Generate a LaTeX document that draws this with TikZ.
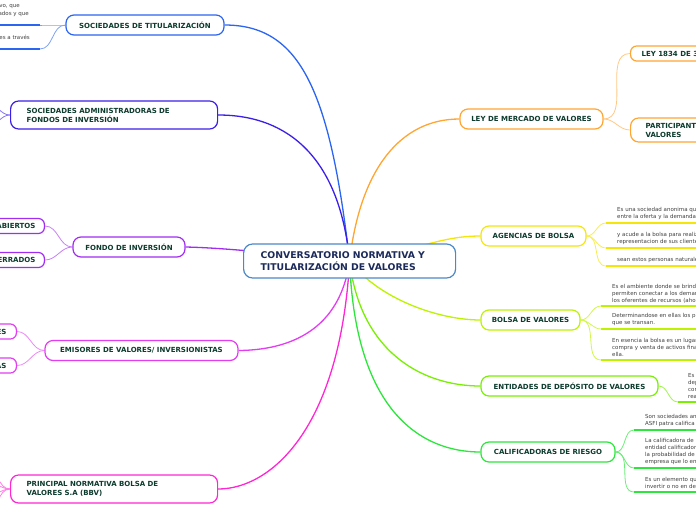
\documentclass[tikz,border=0pt]{standalone}
\usepackage{fontspec}
\setmainfont{DejaVu Sans}
\usepackage{tikz}
\usetikzlibrary{arrows.meta,positioning,calc}
\definecolor{topictext}{HTML}{0D3B2E}
\definecolor{roottext}{HTML}{1C2A5A}
\definecolor{notetext}{HTML}{404040}
\definecolor{rootline}{HTML}{4A88C8}
\definecolor{titcol}{HTML}{2B65F2}
\definecolor{admcol}{HTML}{3B1EE8}
\definecolor{fondcol}{HTML}{A12CF2}
\definecolor{emicol}{HTML}{E33CF2}
\definecolor{bbvcol}{HTML}{FF26D4}
\definecolor{leycol}{HTML}{FFA532}
\definecolor{agcol}{HTML}{F4E60A}
\definecolor{bolcol}{HTML}{BDF200}
\definecolor{entcol}{HTML}{78F000}
\definecolor{calcol}{HTML}{2CE63C}
\pgfdeclarelayer{bg}
\pgfsetlayers{bg,main}

\begin{document}
\begin{tikzpicture}[x=1pt, y=-1pt, >=Latex,
  topic/.style={draw, fill=white, rounded corners=8pt, line width=1.2pt, text=topictext,
    font=\bfseries\fontsize{7}{9}\selectfont, minimum height=20pt, inner ysep=0pt},
  subtopic/.style={topic, rounded corners=6pt, minimum height=15pt, inner xsep=9pt},
  longtopic/.style={topic, minimum height=28pt, inner xsep=16pt, text width=175pt, align=left},
  note/.style={inner sep=0pt, align=left, text=notetext, font=\fontsize{5.5}{7}\selectfont},
  branch/.style={line width=1.3pt},
  twig/.style={line width=0.8pt},
  noteline/.style={line width=1.8pt}]
\path[use as bounding box] (0,0) rectangle (696,520);
\clip (0,0) rectangle (696,520);

\node[draw=rootline, fill=white, rounded corners=9pt, line width=1.2pt, text=roottext,
  font=\bfseries\fontsize{9.3}{11.5}\selectfont, minimum height=34pt, text width=178pt,
  inner xsep=17pt, align=left, anchor=west] (root) at (243,261) {CONVERSATORIO NORMATIVA Y\\TITULARIZACIÓN DE VALORES};

% left side
\node[topic, draw=titcol, minimum width=158pt] (tit) at (145,25) {SOCIEDADES DE TITULARIZACIÓN};
\node[longtopic, draw=admcol, anchor=west] (adm) at (10,115) {SOCIEDADES ADMINISTRADORAS DE\\FONDOS DE INVERSIÓN};
\node[topic, draw=fondcol, minimum width=112pt] (fondo) at (129,247) {FONDO DE INVERSIÓN};
\node[subtopic, draw=fondcol, anchor=east] (abiertos) at (45,226) {ABIERTOS};
\node[subtopic, draw=fondcol, anchor=east] (cerrados) at (45,260) {CERRADOS};
\node[topic, draw=emicol, minimum width=193pt] (emisores) at (141.5,350.5) {EMISORES DE VALORES/ INVERSIONISTAS};
\node[subtopic, draw=emicol, anchor=east, inner xsep=10pt] (emi1) at (17,331.5) {ES};
\node[subtopic, draw=emicol, anchor=east, inner xsep=10pt] (emi2) at (17,365.5) {AS};
\node[longtopic, draw=bbvcol, anchor=west] (bbv) at (10,489) {PRINCIPAL NORMATIVA BOLSA DE\\VALORES S.A (BBV)};

\coordinate (tit1) at (40,25);
\coordinate (tit2) at (40,49);
\node[note, anchor=base east] (tit1a) at (20,7) {vo, que};
\node[note, anchor=base east] (tit1b) at (29,15) {ados y que};
\node[note, anchor=base east] (tit2a) at (30,39) {es a través};
\draw[noteline, titcol] (tit1) -- ++(-50,0);
\draw[noteline, titcol] (tit2) -- ++(-50,0);
\coordinate (adm1) at (-12,104);
\coordinate (adm2) at (-12,126);
\coordinate (bbv1) at (-14,468);
\coordinate (bbv2) at (-14,481);
\coordinate (bbv3) at (-14,497);
\coordinate (bbv4) at (-14,512);

% right side
\node[topic, draw=leycol, minimum width=143pt] (ley) at (531.5,119) {LEY DE MERCADO DE VALORES};
\node[subtopic, draw=leycol, anchor=west, inner xsep=11pt] (ley1834) at (630,53.5) {LEY 1834 DE 3};
\node[topic, draw=leycol, anchor=west, minimum height=24pt, align=left, inner xsep=15pt] (partic) at (630,130) {PARTICIPANT\\VALORES};
\node[topic, draw=agcol, minimum width=105pt] (agencias) at (533.5,236) {AGENCIAS DE BOLSA};
\node[topic, draw=bolcol, minimum width=99pt] (bolsa) at (530.5,320) {BOLSA DE VALORES};
\node[topic, draw=entcol, minimum width=177pt] (entidades) at (569.5,386) {ENTIDADES DE DEPÓSITO DE VALORES};
\node[topic, draw=calcol, minimum width=134pt] (calif) at (548,452) {CALIFICADORAS DE RIESGO};

\coordinate (ag1) at (606,223);
\coordinate (ag2) at (606,248);
\coordinate (ag3) at (606,266);
\node[note, anchor=south west] (ag1t) at (617,220) {Es una sociedad anonima qu\\entre la oferta y la demanda};
\node[note, anchor=south west] (ag2t) at (617,245) {y acude a la bolsa para realiz\\representacion de sus clientes};
\node[note, anchor=south west] (ag3t) at (617,263) {sean estos personas naturale};
\draw[noteline, agcol] (ag1) -- ++(100,0);
\draw[noteline, agcol] (ag2) -- ++(100,0);
\draw[noteline, agcol] (ag3) -- ++(100,0);

\coordinate (bol1) at (601,306);
\coordinate (bol2) at (601,329);
\coordinate (bol3) at (601,360);
\node[note, anchor=south west] (bol1t) at (612,303) {Es el ambiente donde se brind\\permiten conectar a los deman\\los oferentes de recursos (aho};
\node[note, anchor=south west] (bol2t) at (612,326) {Determinandose en ellas los p\\que se transan.};
\node[note, anchor=south west] (bol3t) at (612,357) {En esencia la bolsa es un lugar\\compra y venta de activos fina\\ella.};
\draw[noteline, bolcol] (bol1) -- ++(100,0);
\draw[noteline, bolcol] (bol2) -- ++(100,0);
\draw[noteline, bolcol] (bol3) -- ++(100,0);

\coordinate (ent1) at (678,402);
\node[note, anchor=south west] (ent1t) at (688,399) {Es\\dep\\con\\rea};
\draw[noteline, entcol] (ent1) -- ++(40,0);

\coordinate (cal1) at (634,430);
\coordinate (cal2) at (634,468);
\coordinate (cal3) at (634,492);
\node[note, anchor=south west] (cal1t) at (645,427) {Son sociedades an\\ASFI patra califica};
\node[note, anchor=south west] (cal2t) at (645,465) {La calificadora de r\\entidad calificador\\la probabilidad de\\empresa que lo en};
\node[note, anchor=south west] (cal3t) at (645,489) {Es un elemento qu\\invertir o no en de};
\draw[noteline, calcol] (cal1) -- ++(80,0);
\draw[noteline, calcol] (cal2) -- ++(80,0);
\draw[noteline, calcol] (cal3) -- ++(80,0);

\begin{pgfonlayer}{bg}
\draw[branch, titcol] (root.center) .. controls (330,90) and (300,25) .. (tit.east);
\draw[branch, admcol] (root.center) .. controls (340,160) and (290,115) .. (adm.east);
\draw[branch, fondcol] (root.center) .. controls (290,255) and (230,248) .. (fondo.east);
\draw[branch, emicol] (root.center) .. controls (340,330) and (290,350) .. (emisores.east);
\draw[branch, bbvcol] (root.center) .. controls (340,430) and (270,489) .. (bbv.east);
\draw[branch, leycol] (root.center) .. controls (360,170) and (400,119) .. (ley.west);
\draw[branch, agcol] (root.center) .. controls (420,250) and (440,236) .. (agencias.west);
\draw[branch, bolcol] (root.center) .. controls (380,300) and (440,320) .. (bolsa.west);
\draw[branch, entcol] (root.center) .. controls (360,350) and (420,386) .. (entidades.west);
\draw[branch, calcol] (root.center) .. controls (355,410) and (420,452) .. (calif.west);

\draw[twig, titcol!60] (tit.west) to[out=180,in=0] (tit1);
\draw[twig, titcol!60] (tit.west) to[out=180,in=0] (tit2);
\draw[twig, admcol!60] (adm.west) to[out=180,in=0] (adm1);
\draw[twig, admcol!60] (adm.west) to[out=180,in=0] (adm2);
\draw[twig, fondcol!60] (fondo.west) to[out=180,in=0] (abiertos.east);
\draw[twig, fondcol!60] (fondo.west) to[out=180,in=0] (cerrados.east);
\draw[twig, emicol!60] (emisores.west) to[out=180,in=0] (emi1.east);
\draw[twig, emicol!60] (emisores.west) to[out=180,in=0] (emi2.east);
\foreach \b in {bbv1,bbv2,bbv3,bbv4}
  \draw[twig, bbvcol!60] (bbv.west) to[out=180,in=0] (\b);
\draw[twig, leycol!60] (ley.east) to[out=0,in=180] (ley1834.west);
\draw[twig, leycol!60] (ley.east) to[out=0,in=180] (partic.west);
\foreach \b in {ag1,ag2,ag3}
  \draw[twig, agcol!70] (agencias.east) to[out=0,in=180] (\b);
\foreach \b in {bol1,bol2,bol3}
  \draw[twig, bolcol!70] (bolsa.east) to[out=0,in=180] (\b);
\draw[twig, entcol!70] (entidades.east) to[out=0,in=180] (ent1);
\foreach \b in {cal1,cal2,cal3}
  \draw[twig, calcol!70] (calif.east) to[out=0,in=180] (\b);
\end{pgfonlayer}
\end{tikzpicture}
\end{document}
